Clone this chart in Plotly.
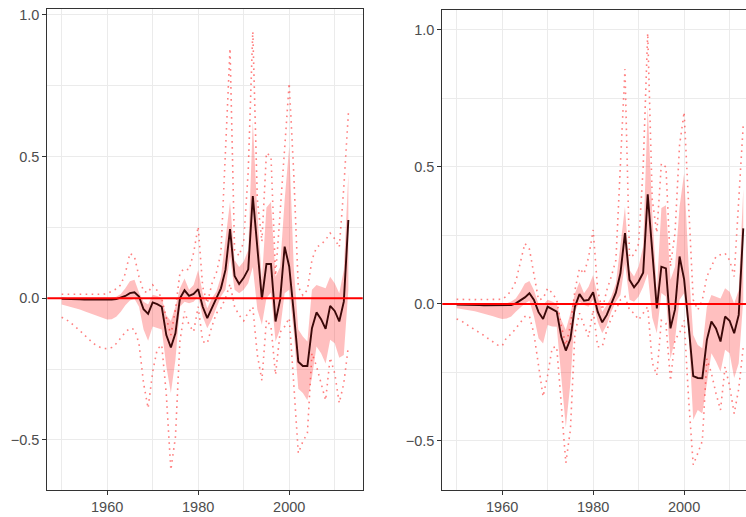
import plotly.graph_objects as go

years = list(range(1950, 2014))

# ---------------- left panel ----------------
L_mean = [-0.002, -0.002, -0.003, -0.003, -0.004, -0.005, -0.005, -0.006, -0.007, -0.007,
          -0.007, -0.005, -0.003, 0.002, 0.008, 0.018, 0.021, 0.006, -0.039, -0.055,
          -0.015, -0.021, -0.030, -0.130, -0.174, -0.124, 0.000, 0.028, 0.008, 0.015,
          0.032, -0.030, -0.070, -0.035, 0.000, 0.035, 0.100, 0.244, 0.079, 0.050,
          0.072, 0.102, 0.361, 0.180, -0.003, 0.121, 0.121, -0.082, -0.006, 0.182,
          0.112, -0.050, -0.224, -0.239, -0.239, -0.106, -0.050, -0.074, -0.108, -0.027,
          -0.045, -0.082, -0.012, 0.276]
L_lo = [-0.022, -0.026, -0.030, -0.035, -0.040, -0.046, -0.052, -0.058, -0.065, -0.071,
        -0.075, -0.074, -0.065, -0.048, -0.025, -0.008, -0.002, -0.030, -0.110, -0.150,
        -0.100, -0.105, -0.110, -0.240, -0.335, -0.218, -0.030, -0.012, -0.018, -0.012,
        0.006, -0.065, -0.106, -0.075, -0.035, 0.006, 0.030, 0.147, 0.030, 0.018,
        0.030, 0.053, 0.110, -0.040, -0.094, 0.000, 0.020, -0.153, -0.110, 0.018,
        0.030, -0.120, -0.320, -0.335, -0.360, -0.280, -0.170, -0.194, -0.230, -0.147,
        -0.159, -0.210, -0.200, 0.030]
L_hi = [0.000, 0.000, 0.000, -0.001, -0.001, -0.002, -0.002, -0.002, -0.002, -0.002,
        -0.001, 0.002, 0.005, 0.015, 0.035, 0.060, 0.065, 0.020, -0.012, -0.022,
        0.012, 0.008, 0.000, -0.060, -0.080, -0.030, 0.035, 0.070, 0.030, 0.047,
        0.100, 0.018, -0.035, 0.000, 0.024, 0.076, 0.206, 0.341, 0.135, 0.110,
        0.130, 0.170, 0.625, 0.300, 0.065, 0.320, 0.340, 0.076, 0.110, 0.347,
        0.535, 0.110, -0.110, -0.135, -0.153, 0.030, 0.047, 0.041, 0.035, 0.076,
        0.053, 0.018, 0.100, 0.440]
L_dlo = [-0.067, -0.075, -0.087, -0.100, -0.114, -0.130, -0.146, -0.160, -0.170, -0.177,
         -0.178, -0.174, -0.160, -0.140, -0.120, -0.106, -0.110, -0.160, -0.300, -0.388,
         -0.260, -0.180, -0.165, -0.340, -0.606, -0.490, -0.150, -0.047, -0.094, -0.118,
         -0.030, -0.153, -0.159, -0.100, -0.053, -0.035, 0.000, 0.050, -0.030, -0.060,
         -0.080, -0.050, -0.030, -0.200, -0.290, -0.076, -0.100, -0.270, -0.120, -0.100,
         -0.070, -0.300, -0.547, -0.506, -0.476, -0.194, -0.240, -0.300, -0.360, -0.210,
         -0.265, -0.370, -0.300, -0.170]
L_dhi = [0.014, 0.014, 0.014, 0.014, 0.014, 0.014, 0.013, 0.013, 0.013, 0.014,
         0.016, 0.024, 0.033, 0.047, 0.088, 0.159, 0.147, 0.076, 0.024, 0.020,
         0.047, 0.027, 0.000, -0.070, -0.130, -0.040, 0.090, 0.105, 0.100, 0.160,
         0.253, 0.040, -0.018, 0.050, 0.090, 0.160, 0.500, 0.882, 0.170, 0.150,
         0.200, 0.450, 0.941, 0.350, 0.200, 0.513, 0.500, 0.080, 0.300, 0.520,
         0.759, 0.440, 0.040, 0.010, 0.030, 0.135, 0.180, 0.190, 0.206, 0.230,
         0.210, 0.180, 0.390, 0.653]

# ---------------- right panel ----------------
R_mean = [-0.002, -0.002, -0.003, -0.003, -0.004, -0.004, -0.005, -0.005, -0.006, -0.006,
          -0.006, -0.005, -0.004, 0.002, 0.012, 0.024, 0.039, 0.015, -0.030, -0.055,
          -0.010, -0.018, -0.028, -0.120, -0.170, -0.128, -0.010, 0.036, 0.012, 0.015,
          0.043, -0.028, -0.067, -0.040, 0.000, 0.041, 0.112, 0.259, 0.088, 0.061,
          0.082, 0.114, 0.400, 0.190, -0.016, 0.136, 0.130, -0.089, -0.020, 0.173,
          0.090, -0.080, -0.263, -0.270, -0.271, -0.131, -0.064, -0.089, -0.137, -0.046,
          -0.061, -0.107, -0.040, 0.276]
R_lo = [-0.016, -0.018, -0.021, -0.024, -0.027, -0.031, -0.035, -0.040, -0.045, -0.050,
        -0.055, -0.053, -0.046, -0.028, -0.012, 0.002, 0.012, -0.046, -0.125, -0.144,
        -0.077, -0.082, -0.083, -0.265, -0.450, -0.290, -0.028, 0.008, -0.004, -0.010,
        0.015, -0.065, -0.107, -0.077, -0.028, 0.008, 0.033, 0.148, 0.015, 0.008,
        0.027, 0.063, 0.110, -0.050, -0.107, 0.040, 0.027, -0.200, -0.130, 0.015,
        0.039, -0.107, -0.423, -0.387, -0.400, -0.290, -0.180, -0.210, -0.247, -0.167,
        -0.180, -0.270, -0.216, 0.015]
R_hi = [0.000, 0.000, 0.000, 0.000, 0.000, -0.001, -0.001, -0.001, -0.001, -0.001,
        0.000, 0.003, 0.009, 0.020, 0.045, 0.075, 0.084, 0.050, 0.000, -0.004,
        0.015, 0.009, 0.000, -0.058, -0.095, -0.035, 0.039, 0.080, 0.039, 0.063,
        0.106, 0.027, -0.028, -0.004, 0.027, 0.075, 0.210, 0.355, 0.124, 0.100,
        0.137, 0.210, 0.720, 0.330, 0.050, 0.350, 0.360, 0.088, 0.136, 0.355,
        0.477, 0.136, -0.113, -0.150, -0.162, -0.010, 0.033, 0.027, 0.020, 0.057,
        0.045, 0.002, 0.051, 0.420]
R_dlo = [-0.055, -0.061, -0.073, -0.083, -0.092, -0.103, -0.115, -0.127, -0.140, -0.150,
         -0.153, -0.122, -0.110, -0.091, -0.068, -0.046, -0.044, -0.110, -0.229, -0.338,
         -0.260, -0.160, -0.156, -0.375, -0.580, -0.460, -0.107, -0.034, -0.080, -0.120,
         -0.022, -0.156, -0.156, -0.095, -0.052, -0.022, 0.015, 0.027, -0.022, -0.034,
         -0.058, -0.034, -0.010, -0.215, -0.260, -0.060, -0.070, -0.280, -0.130, -0.107,
         -0.060, -0.350, -0.587, -0.545, -0.500, -0.200, -0.253, -0.326, -0.387, -0.229,
         -0.300, -0.400, -0.310, -0.156]
R_dhi = [0.017, 0.016, 0.016, 0.016, 0.016, 0.016, 0.016, 0.016, 0.016, 0.016,
         0.017, 0.029, 0.049, 0.082, 0.148, 0.221, 0.200, 0.100, 0.015, 0.020,
         0.057, 0.040, 0.015, -0.080, -0.150, -0.080, 0.050, 0.130, 0.110, 0.170,
         0.270, 0.050, -0.022, 0.050, 0.100, 0.160, 0.525, 0.857, 0.170, 0.180,
         0.220, 0.500, 0.988, 0.380, 0.260, 0.513, 0.500, 0.137, 0.260, 0.580,
         0.700, 0.380, 0.015, -0.022, 0.015, 0.100, 0.136, 0.173, 0.180, 0.185,
         0.160, 0.100, 0.380, 0.653]

ref_level = 0.0

x_tickvals = [1960, 1980, 2000]
x_ticktext = ["1960", "1980", "2000"]
x_minor = [1950, 1970, 1990, 2010]
y_tickvals = [-0.5, 0.0, 0.5, 1.0]
y_ticktext = ["\u22120.5", "0.0", "0.5", "1.0"]
y_minor = [-0.25, 0.25, 0.75]

RIBBON = "rgba(255,0,0,0.25)"
DOTTED = "rgba(255,0,0,0.5)"
MEAN = "#3a0808"
GRID = "#EBEBEB"
BORDER = "#333333"
FONT = dict(family="Liberation Sans, Arial, sans-serif", size=14.5, color="#4D4D4D")

fig = go.Figure()


def add_panel(xa, ya, lo, hi, dlo, dhi, mean):
    fig.add_trace(go.Scatter(x=years, y=lo, mode="lines", line=dict(width=0, color=RIBBON),
                             xaxis=xa, yaxis=ya, showlegend=False, hoverinfo="skip"))
    fig.add_trace(go.Scatter(x=years, y=hi, mode="lines", line=dict(width=0, color=RIBBON),
                             fill="tonexty", fillcolor=RIBBON,
                             xaxis=xa, yaxis=ya, showlegend=False, hoverinfo="skip"))
    for d in (dlo, dhi):
        fig.add_trace(go.Scatter(x=years, y=d, mode="lines",
                                 line=dict(width=1.6, color=DOTTED, dash="1.6px,4.4px"),
                                 xaxis=xa, yaxis=ya, showlegend=False))
    fig.add_trace(go.Scatter(x=years, y=mean, mode="lines",
                             line=dict(width=1.9, color=MEAN),
                             xaxis=xa, yaxis=ya, showlegend=False))


add_panel("x", "y", L_lo, L_hi, L_dlo, L_dhi, L_mean)
add_panel("x2", "y2", R_lo, R_hi, R_dlo, R_dhi, R_mean)

for xr, yr in (("x domain", "y"), ("x2 domain", "y2")):
    fig.add_shape(type="line", xref=xr, yref=yr, x0=0, x1=1, y0=ref_level, y1=ref_level,
                  line=dict(color="#FF0000", width=1.9), layer="above")


def xaxis_style(domain, rng, anchor):
    return dict(domain=domain, range=rng, anchor=anchor,
                tickvals=x_tickvals, ticktext=x_ticktext,
                ticks="outside", ticklen=4, tickwidth=1, tickcolor=BORDER,
                showgrid=True, gridcolor=GRID, gridwidth=1.2,
                minor=dict(tickvals=x_minor, showgrid=True, gridcolor=GRID, gridwidth=0.7, ticks=""),
                showline=True, linecolor=BORDER, linewidth=1.1, mirror=True,
                zeroline=False, tickfont=FONT, automargin=False)


def yaxis_style(domain, rng, anchor, mirror):
    return dict(domain=domain, range=rng, anchor=anchor,
                tickvals=y_tickvals, ticktext=y_ticktext,
                ticks="outside", ticklen=4, tickwidth=1, tickcolor=BORDER,
                showgrid=True, gridcolor=GRID, gridwidth=1.2,
                minor=dict(tickvals=y_minor, showgrid=True, gridcolor=GRID, gridwidth=0.7, ticks=""),
                showline=True, linecolor=BORDER, linewidth=1.1, mirror=mirror,
                zeroline=False, tickfont=FONT, automargin=False)


W, H = 746, 517
fig.update_layout(
    width=W, height=H,
    margin=dict(l=0, r=0, t=0, b=0),
    paper_bgcolor="white", plot_bgcolor="white",
    showlegend=False,
    xaxis=xaxis_style([47.3 / W, 362.7 / W], [1946.85, 2016.15], "y"),
    yaxis=yaxis_style([1 - 490 / H, 1 - 9.3 / H], [-0.677, 1.02], "x", True),
    xaxis2=xaxis_style([442.3 / W, 1.0], [1946.85, 2013.6], "y2"),
    yaxis2=yaxis_style([1 - 490 / H, 1 - 9.7 / H], [-0.679, 1.074], "x2", False),
)

fig.write_html("out.html")
